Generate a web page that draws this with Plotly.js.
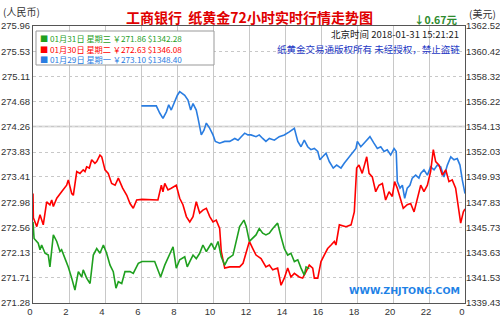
<!DOCTYPE html>
<html><head><meta charset="utf-8">
<script src="https://cdn.plot.ly/plotly-3.0.1.min.js"></script>
<style>html,body{margin:0;padding:0;background:#fff;}#chart{width:500px;height:317px;}</style>
</head><body><div id="chart"></div>
<script>
// ---- data ----
const xTickVals = [0,2,4,6,8,10,12,14,16,18,20,22,24];
const xTickText = ['0','2','4','6','8','10','12','14','16','18','20','22','0'];
const rmbTicks = [271.28,271.71,272.13,272.56,272.98,273.41,273.83,274.26,274.68,275.11,275.53,275.96];
const usdTicks = [1339.43,1341.53,1343.63,1345.73,1347.83,1349.93,1352.03,1354.13,1356.22,1358.32,1360.42,1362.52];

const legendDates = ['01月31日','01月30日','01月29日'];
const legendWeekdays = ['星期三','星期二','星期一'];
const legendRmb = ['271.86','272.63','273.10'];
const legendUsd = ['1342.28','1346.08','1348.40'];

const greenHours = [0,0.06,0.29,0.39,0.48,0.67,0.85,0.94,1.13,1.32,1.50,1.59,1.78,1.96,2.15,2.33,2.52,2.71,2.79,2.98,3.17,3.35,3.54,3.72,3.91,4.09,4.28,4.46,4.61,4.74,4.93,5.11,5.39,5.57,5.85,6.06,6.76,7.09,7.32,7.59,7.78,7.96,8.15,8.43,8.57,8.71,8.89,9.07,9.26,9.44,9.63,9.91,10.09,10.28,10.46,10.65,10.83,11.11,11.29,11.48,11.72,11.85,12.02,12.21,12.39,12.57,12.76,12.94,13.13,13.32,13.59,13.78,13.96,14.15,14.33,14.52,14.71,14.89,15.07,15.17,15.35];
const greenVals = [272.65,272.37,272.29,272.18,272.26,272.12,272.09,271.89,272.43,272.32,272.15,272.18,272.03,271.89,271.70,271.50,271.81,271.72,271.84,271.70,271.61,272.09,272.20,272.12,272.26,272.12,271.92,271.81,271.53,271.64,271.61,271.81,271.81,271.78,271.95,271.98,271.98,271.72,271.92,272.09,272.23,271.87,272.01,272.06,271.89,271.98,272.09,272.03,272.12,272.26,272.15,272.29,272.18,272.32,272.06,271.92,272.03,272.09,272.32,272.57,272.68,272.57,272.32,272.37,272.43,272.54,272.46,272.43,272.46,272.54,272.63,272.40,272.20,272.09,272.12,271.98,272.01,271.87,271.75,271.89,271.86];

const redHours = [0,0.02,0.21,0.39,0.57,0.76,0.94,1.04,1.13,1.32,1.59,1.87,1.96,2.15,2.24,2.43,2.61,2.79,2.89,2.98,3.13,3.26,3.44,3.54,3.72,3.82,4.00,4.18,4.37,4.56,4.74,4.83,4.98,5.21,5.39,5.57,5.76,6.06,6.94,7.13,7.22,7.32,7.50,7.68,7.96,8.15,8.33,8.52,8.71,8.89,9.07,9.26,9.44,9.63,9.82,10.00,10.18,10.37,10.46,10.65,10.93,11.21,11.48,11.67,11.85,12.02,12.21,12.39,12.67,12.94,13.13,13.32,13.59,13.78,13.96,14.15,14.33,14.52,14.79,14.98,15.17,15.35,15.54,15.63,15.82,16.00,16.18,16.37,16.56,16.74,16.83,17.02,17.39,17.67,17.85,17.98,18.11,18.29,18.54,18.67,18.85,19.04,19.22,19.41,19.59,19.78,19.96,20.09,20.24,20.43,20.57,20.79,20.98,21.17,21.35,21.54,21.72,21.91,22.09,22.24,22.37,22.56,22.74,22.93,23.11,23.29,23.48,23.67,23.76,23.91,24.00];
const redVals = [273.13,272.72,272.57,272.77,272.60,272.99,272.94,273.02,272.91,273.05,273.16,273.27,273.36,273.13,273.10,273.50,273.47,273.53,273.50,273.58,273.56,273.70,273.64,273.67,273.78,273.75,273.53,273.47,273.30,273.27,273.39,273.33,273.22,273.10,272.96,272.88,273.02,273.03,273.02,273.27,273.16,273.30,273.19,273.22,273.27,273.05,272.94,272.74,272.65,272.74,272.99,272.80,272.85,272.88,272.74,272.65,272.68,272.54,272.15,271.87,271.89,271.89,271.89,271.95,272.15,272.32,272.20,272.09,272.03,271.89,271.92,271.84,271.87,271.58,271.70,271.87,271.72,271.78,271.72,271.70,271.81,271.92,271.87,271.70,271.70,271.98,272.09,272.20,272.26,272.32,272.26,272.60,272.57,272.60,272.82,273.56,273.61,273.47,273.75,273.47,273.41,273.16,273.27,273.30,273.02,273.16,273.08,273.33,273.22,273.02,272.88,272.94,272.96,272.82,273.05,273.27,273.16,273.27,273.50,273.87,273.67,273.61,273.44,273.53,273.33,273.36,273.22,272.82,272.63,272.82,272.87];

const blueHours = [6.02,6.85,7.04,7.22,7.41,7.54,7.68,7.83,8.02,8.15,8.43,8.61,8.76,8.89,9.07,9.17,9.35,9.50,9.63,9.82,10.00,10.13,10.37,10.65,10.93,11.21,11.39,11.57,11.76,11.94,12.11,12.39,12.57,12.76,12.94,13.13,13.41,13.68,13.96,14.24,14.52,14.71,14.89,15.07,15.26,15.44,15.63,15.82,15.94,16.09,16.28,16.46,16.68,16.87,17.11,17.29,17.57,17.76,17.94,18.02,18.21,18.39,18.72,18.94,19.13,19.32,19.50,19.68,19.87,20.06,20.18,20.24,20.39,20.52,20.65,20.79,20.94,21.07,21.26,21.44,21.54,21.72,21.91,22.09,22.28,22.46,22.65,22.83,23.02,23.21,23.39,23.57,23.72,23.85,24.00];
const blueVals = [274.61,274.61,274.49,274.40,274.51,274.63,274.54,274.65,274.79,274.85,274.79,274.71,274.54,274.65,274.54,274.40,274.12,274.20,274.32,274.23,274.12,274.01,273.98,274.01,274.01,274.06,274.03,274.09,274.15,274.12,274.12,274.09,274.12,274.06,274.01,274.06,274.03,274.09,274.12,274.17,274.23,274.01,273.92,274.03,273.92,273.87,273.89,273.84,273.70,273.75,273.81,273.67,273.56,273.61,273.56,273.64,273.75,273.84,273.89,274.01,273.92,273.98,274.09,273.98,273.89,273.92,273.84,273.87,273.78,273.89,273.84,273.33,273.22,273.27,273.05,273.22,273.27,273.39,273.44,273.39,273.47,273.53,273.44,273.58,273.53,273.61,273.58,273.41,273.61,273.75,273.70,273.72,273.61,273.36,273.13];

const colors = ['#1fa01f','#ff0000','#2a7de1'];

// ---- chart ----
const tickFont = {family:'Liberation Sans, Arial, sans-serif', size:9.5, color:'#333'};
const cjk = 'Noto Sans CJK SC, sans-serif';

const traces = [
  {x: blueHours, y: blueVals, type:'scatter', mode:'lines', line:{color:colors[2], width:1.6}, hoverinfo:'skip', showlegend:false},
  {x: redHours, y: redVals, type:'scatter', mode:'lines', line:{color:colors[1], width:1.6}, hoverinfo:'skip', showlegend:false},
  {x: greenHours, y: greenVals, type:'scatter', mode:'lines', line:{color:colors[0], width:1.6}, hoverinfo:'skip', showlegend:false},
  // invisible helper so the right-hand USD axis is drawn
  {x: [xTickVals[0], xTickVals[xTickVals.length-1]], y: [usdTicks[0], usdTicks[usdTicks.length-1]], yaxis:'y2', type:'scatter', mode:'lines',
   line:{width:0, color:'rgba(0,0,0,0)'}, opacity:0, hoverinfo:'skip', showlegend:false}
];

function px2paperX(p){return (p-33)/432;}
function px2paperY(p){return (303-p)/277;}
const gap = ' ';
const legendLines = legendDates.map((d,i)=>
  '<span style="color:' + colors[i] + '">■ ' + d + gap + legendWeekdays[i] + gap + '￥' + legendRmb[i] + gap + '$' + legendUsd[i] + '</span>');

const ann = [];
ann.push({xref:'paper', yref:'paper', x:px2paperX(38), y:px2paperY(48), xanchor:'left', yanchor:'middle', align:'left', showarrow:false,
  text: legendLines.join('<br>'), font:{family:cjk, size:8.2, color:colors[0]}});
ann.push({xref:'paper', yref:'paper', x:px2paperX(249), y:px2paperY(17), xanchor:'center', yanchor:'middle', showarrow:false,
  text:'<b>工商银行  纸黄金72小时实时行情走势图</b>', font:{family:cjk, size:14, color:'#e00000'}});
ann.push({xref:'paper', yref:'paper', x:px2paperX(1), y:px2paperY(12), xanchor:'left', yanchor:'middle', showarrow:false,
  text:'(人民币)', font:{family:cjk, size:10, color:'#333'}});
ann.push({xref:'paper', yref:'paper', x:px2paperX(467), y:px2paperY(13), xanchor:'left', yanchor:'middle', showarrow:false,
  text:'(美元)', font:{family:cjk, size:10, color:'#333'}});
ann.push({xref:'paper', yref:'paper', x:px2paperX(459), y:px2paperY(20), xanchor:'right', yanchor:'middle', showarrow:false,
  text:'<b>↓0.67元</b>', font:{family:cjk, size:10.5, color:'#2e8b2e'}});
ann.push({xref:'paper', yref:'paper', x:px2paperX(461), y:px2paperY(34), xanchor:'right', yanchor:'middle', showarrow:false,
  text:'北京时间 2018-01-31 15:21:21', font:{family:cjk, size:9.5, color:'#222'}});
ann.push({xref:'paper', yref:'paper', x:px2paperX(462), y:px2paperY(49), xanchor:'right', yanchor:'middle', showarrow:false,
  text:'纸黄金交易通版权所有 未经授权，禁止盗链', font:{family:cjk, size:9.5, color:'#2438c4'}});
ann.push({xref:'paper', yref:'paper', x:px2paperX(462), y:px2paperY(290), xanchor:'right', yanchor:'middle', showarrow:false,
  text:'<b>WWW.ZHJTONG.COM</b>', font:{family:'Verdana, DejaVu Sans, sans-serif', size:9.5, color:'#1e82e6'}});

const layout = {
  width:500, height:317,
  margin:{l:33, r:35, t:26, b:14, pad:0},
  paper_bgcolor:'#fff', plot_bgcolor:'#fff',
  showlegend:false,
  xaxis:{range:[0,24], tickvals:xTickVals, ticktext:xTickText, showgrid:true, gridcolor:'#c8c8c8', gridwidth:1,
    zeroline:false, showline:true, linecolor:'#555', linewidth:1, mirror:true, ticks:'', tickfont:tickFont, ticklabelshift:-3, fixedrange:true},
  yaxis:{range:[271.28,275.96], tickvals:rmbTicks, ticktext:rmbTicks.map(v=>v.toFixed(2)), showgrid:true, gridcolor:'#c8c8c8', griddash:'dot', gridwidth:1,
    zeroline:false, showline:true, linecolor:'#555', linewidth:1, mirror:true, ticks:'', tickfont:tickFont, fixedrange:true},
  yaxis2:{range:[1339.43,1362.52], tickvals:usdTicks, ticktext:usdTicks.map(v=>v.toFixed(2)), overlaying:'y', side:'right', showgrid:false,
    zeroline:false, showline:false, ticks:'', tickfont:tickFont, fixedrange:true},
  shapes:[
    {type:'line', xref:'paper', yref:'y', x0:0, x1:1, y0:rmbTicks[7], y1:rmbTicks[7], line:{color:'#dcdcdc', width:2}, layer:'below'},
    {type:'rect', xref:'paper', yref:'paper', x0:px2paperX(36), x1:px2paperX(214), y0:px2paperY(65), y1:px2paperY(31), line:{color:'#999', width:1}, fillcolor:'#fff', layer:'above'}
  ],
  annotations: ann
};

Plotly.newPlot('chart', traces, layout, {staticPlot:true, displayModeBar:false});
</script>
</body></html>
